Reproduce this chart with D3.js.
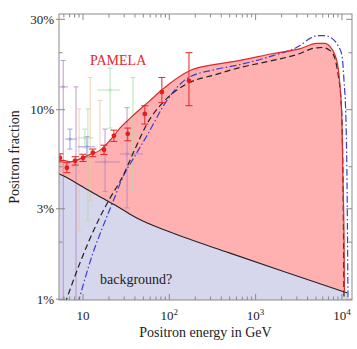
<!DOCTYPE html>
<html>
<head>
<meta charset="utf-8">
<script src="https://cdn.jsdelivr.net/npm/d3@7"></script>
<style>
body { margin: 0; background: #fff; }
text { font-family: "Liberation Serif", "Times New Roman", serif; }
</style>
</head>
<body>
<script>
// energies in GeV, fractions in percent
var totalE = [5.3, 5.9, 7.1, 9.2, 12, 15.7, 20.6, 26.8, 35, 60, 85, 174, 390, 660, 1600, 3300, 5100, 6400, 7300, 8100, 9000, 9500, 10000, 10300, 10600, 10700];
var totalV = [5.4, 5.4, 5.3, 5.5, 5.8, 6.1, 6.9, 8.0, 9.0, 11.2, 12.9, 16.1, 17.5, 18.2, 19.8, 21.0, 22.4, 22.4, 21.5, 20.0, 16.9, 13.4, 8.7, 4.2, 2.0, 1.1];

var bgE = [5.3, 5.9, 10, 15.7, 26.8, 42, 102, 505, 3270, 11460];
var bgV = [4.58, 4.48, 3.91, 3.47, 3.03, 2.68, 2.26, 1.75, 1.31, 1.08];

var dashE = [6.2, 9.2, 14.9, 20.6, 28.3, 40, 55, 89, 160, 340, 660, 1590, 3270, 4500, 5900, 7300, 8300, 9000, 9760, 10030, 10300, 10580];
var dashV = [0.95, 1.55, 2.58, 3.42, 4.37, 6.2, 8.4, 11.2, 13.7, 15.3, 16.7, 18.2, 19.8, 21.0, 21.3, 20.5, 18.6, 15.5, 11.2, 8.7, 4.2, 0.95];

var dotE = [8.75, 12.7, 18, 22.9, 28.3, 40, 55, 94, 160, 340, 660, 1590, 3270, 4270, 5150, 6370, 7680, 9010, 10030, 10580, 11150, 11460, 11770];
var dotV = [0.95, 1.69, 2.58, 3.38, 4.31, 5.71, 7.29, 11.2, 14.6, 16.3, 17.3, 19.3, 21.8, 23.8, 24.6, 24.6, 23.8, 21.8, 19.3, 14.2, 8.7, 4.2, 0.95];

var pamE  = [5.4, 6.5, 8.1, 10, 13, 17.5, 22.8, 33, 52, 82, 169];
var pamV  = [5.57, 4.94, 5.37, 5.57, 5.93, 6.15, 7.28, 7.46, 9.5, 12.4, 14.2];
var pamLo = [5.3, 4.65, 5.1, 5.33, 5.65, 5.8, 6.8, 6.85, 8.4, 10.9, 10.5];
var pamHi = [5.85, 5.25, 5.65, 5.82, 6.2, 6.5, 7.8, 8.0, 10.5, 14.8, 20.0];

// older experiments, drawn faint
var oldE   = [5.9, 8.3, 9.0, 12.1, 15.7, 11.4, 20.6, 37.9, 7.06, 11.1, 10.5, 18.0, 32.4];
var oldV   = [13.2, null, null, null, null, null, 12.7, 7.46, 7.0, 6.37, 7.1, 5.3, 5.84];
var oldLo  = [0.9, 0.9, 2.3, 3.3, 3.7, 2.6, 8.0, 3.72, 6.2, 5.6, 6.3, 3.7, 3.03];
var oldHi  = [18.2, 13.2, 10.1, 14.8, 11.2, 10.1, 16.6, 14.8, 7.9, 7.2, 7.9, 7.9, 10.25];
var oldE0  = [5.3, null, null, null, null, null, 14.5, 30, 6.2, 8.7, 8.7, 13.8, 26.8];
var oldE1  = [6.7, null, null, null, null, null, 26.8, 48, 8.5, 13.8, 13.1, 26.8, 49.5];
var oldSet = ["p", "p", "o", "o", "o", "g", "g", "g", "b", "b", "g", "p", "p"];
var oldColor = {p: "#b283c8", o: "#f3c49a", g: "#a8dea8", b: "#8a8ad8"};

var yTicks = [1, 3, 10, 30];
var yTickLabels = ["1%", "3%", "10%", "30%"];
var yMinor = [2, 5, 20];
var xTicks = [10, 100, 1000, 10000];
var xTickExp = ["", "2", "3", "4"];

var W = 357, H = 349;
var m = {left: 59, top: 14, right: 5, bottom: 49};

var svg = d3.select("body").append("svg")
    .attr("width", W)
    .attr("height", H);

var x = d3.scaleLog().domain([5.27, 13090]).range([m.left, W - m.right]);
var y = d3.scaleLog().domain([0.99, 32]).range([H - m.bottom, m.top]);

svg.append("clipPath").attr("id", "plot")
  .append("rect")
    .attr("x", m.left).attr("y", m.top)
    .attr("width", W - m.left - m.right)
    .attr("height", H - m.top - m.bottom);

var g = svg.append("g").attr("clip-path", "url(#plot)");

var bg = bgE.map(function(e, i) { return [e, bgV[i]]; });
var total = totalE.map(function(e, i) { return [e, totalV[i]]; });

// lavender background region
g.append("path")
    .datum(bg)
    .attr("fill", "#d6d6ec")
    .attr("d", d3.area()
      .x(function(d) { return x(d[0]); })
      .y0(y(0.99))
      .y1(function(d) { return y(d[1]); })
      .curve(d3.curveMonotoneX));

// pink signal region between background and total
var bgInterp = function(e) {
  var le = Math.log(e);
  for (var i = 0; i < bgE.length - 1; i++) {
    if (e <= bgE[i + 1]) {
      var t = (le - Math.log(bgE[i])) / (Math.log(bgE[i + 1]) - Math.log(bgE[i]));
      return Math.exp(Math.log(bgV[i]) + t * (Math.log(bgV[i + 1]) - Math.log(bgV[i])));
    }
  }
  return bgV[bgV.length - 1];
};
g.append("path")
    .datum(total)
    .attr("fill", "#ffb0b0")
    .attr("d", d3.area()
      .x(function(d) { return x(d[0]); })
      .y0(function(d) { return y(bgInterp(d[0])); })
      .y1(function(d) { return y(d[1]); })
      .curve(d3.curveMonotoneX));

// faint older data
oldE.forEach(function(e, i) {
  var c = oldColor[oldSet[i]];
  var eb = g.append("g").attr("opacity", 0.8);
  eb.append("line")
      .attr("x1", x(e)).attr("x2", x(e))
      .attr("y1", y(oldLo[i])).attr("y2", y(oldHi[i]))
      .attr("stroke", c).attr("stroke-width", 1);
  [oldLo[i], oldHi[i]].forEach(function(v) {
    eb.append("line")
        .attr("x1", x(e) - 2.5).attr("x2", x(e) + 2.5)
        .attr("y1", y(v)).attr("y2", y(v))
        .attr("stroke", c).attr("stroke-width", 1);
  });
  if (oldE0[i] != null) {
    eb.append("line")
        .attr("x1", x(oldE0[i])).attr("x2", x(oldE1[i]))
        .attr("y1", y(oldV[i])).attr("y2", y(oldV[i]))
        .attr("stroke", c).attr("stroke-width", 1);
  }
  if (oldV[i] != null) {
    eb.append("circle")
        .attr("cx", x(e)).attr("cy", y(oldV[i])).attr("r", 1.6)
        .attr("fill", c);
  }
});

var line = d3.line()
    .x(function(d) { return x(d[0]); })
    .y(function(d) { return y(d[1]); })
    .curve(d3.curveMonotoneX);

g.append("path")
    .datum(bg)
    .attr("fill", "none").attr("stroke", "#222").attr("stroke-width", 1.1)
    .attr("d", line);

g.append("path")
    .datum(dotE.map(function(e, i) { return [e, dotV[i]]; }))
    .attr("fill", "none").attr("stroke", "#3c3cd0").attr("stroke-width", 1.2)
    .attr("stroke-dasharray", "7,2.5,1.5,2.5")
    .attr("d", line);

g.append("path")
    .datum(dashE.map(function(e, i) { return [e, dashV[i]]; }))
    .attr("fill", "none").attr("stroke", "#222").attr("stroke-width", 1.2)
    .attr("stroke-dasharray", "6,3.5")
    .attr("d", line);

g.append("path")
    .datum(total)
    .attr("fill", "none").attr("stroke", "#d82a2a").attr("stroke-width", 1.2)
    .attr("d", line);

// PAMELA points
pamE.forEach(function(e, i) {
  g.append("line")
      .attr("x1", x(e)).attr("x2", x(e))
      .attr("y1", y(pamLo[i])).attr("y2", y(pamHi[i]))
      .attr("stroke", "#e02828").attr("stroke-width", 1);
  [pamLo[i], pamHi[i]].forEach(function(v) {
    g.append("line")
        .attr("x1", x(e) - 3.5).attr("x2", x(e) + 3.5)
        .attr("y1", y(v)).attr("y2", y(v))
        .attr("stroke", "#e02828").attr("stroke-width", 1);
  });
  g.append("circle")
      .attr("cx", x(e)).attr("cy", y(pamV[i])).attr("r", 2.4)
      .attr("fill", "#e02020");
});

// frame
svg.append("rect")
    .attr("x", m.left).attr("y", m.top)
    .attr("width", W - m.left - m.right)
    .attr("height", H - m.top - m.bottom)
    .attr("fill", "none").attr("stroke", "#8a8a8a").attr("stroke-width", 1);

// ticks, pointing inward on all four sides
var tickCol = "#8a8a8a";
var xMinor = [];
[1, 10, 100, 1000, 10000].forEach(function(d) {
  for (var k = 2; k <= 9; k++) {
    var v = d * k;
    if (v > 5.27 && v < 13090) xMinor.push(v);
  }
});
function xTick(v, len) {
  svg.append("line").attr("x1", x(v)).attr("x2", x(v))
      .attr("y1", H - m.bottom).attr("y2", H - m.bottom - len)
      .attr("stroke", tickCol);
  svg.append("line").attr("x1", x(v)).attr("x2", x(v))
      .attr("y1", m.top).attr("y2", m.top + len)
      .attr("stroke", tickCol);
}
xTicks.forEach(function(v) { xTick(v, 6); });
xMinor.forEach(function(v) { xTick(v, 3.5); });

function yTick(v, len) {
  svg.append("line").attr("x1", m.left).attr("x2", m.left + len)
      .attr("y1", y(v)).attr("y2", y(v)).attr("stroke", tickCol);
  svg.append("line").attr("x1", W - m.right).attr("x2", W - m.right - len)
      .attr("y1", y(v)).attr("y2", y(v)).attr("stroke", tickCol);
}
yTicks.forEach(function(v) {
  yTick(v, 6);
  svg.append("line").attr("x1", m.left - 3).attr("x2", m.left)
      .attr("y1", y(v)).attr("y2", y(v)).attr("stroke", tickCol);
});
yMinor.forEach(function(v) { yTick(v, 3.5); });

// tick labels
yTicks.forEach(function(v, i) {
  svg.append("text")
      .attr("x", m.left - 5).attr("y", y(v) + 4.5)
      .attr("text-anchor", "end")
      .attr("font-size", 13)
      .attr("fill", "#222")
      .text(yTickLabels[i]);
});
xTicks.forEach(function(v, i) {
  var t = svg.append("text")
      .attr("x", x(v)).attr("y", H - m.bottom + 20)
      .attr("text-anchor", "middle")
      .attr("font-size", 13)
      .attr("fill", "#222");
  t.append("tspan").text("10");
  if (xTickExp[i]) {
    t.append("tspan").attr("dy", -5).attr("font-size", 9).text(xTickExp[i]);
  }
});

// axis titles
svg.append("text")
    .attr("x", (m.left + W - m.right) / 2).attr("y", 337)
    .attr("text-anchor", "middle")
    .attr("font-size", 14)
    .attr("fill", "#222")
    .text("Positron energy in GeV");

svg.append("text")
    .attr("transform", "translate(19,157) rotate(-90)")
    .attr("text-anchor", "middle")
    .attr("font-size", 14)
    .attr("fill", "#222")
    .text("Positron fraction");

// annotations
svg.append("text")
    .attr("x", 90).attr("y", 65)
    .attr("font-size", 14)
    .attr("fill", "#e8262a")
    .text("PAMELA");

svg.append("text")
    .attr("x", 100).attr("y", 284)
    .attr("font-size", 14)
    .attr("fill", "#222")
    .text("background?");
</script>
</body>
</html>
